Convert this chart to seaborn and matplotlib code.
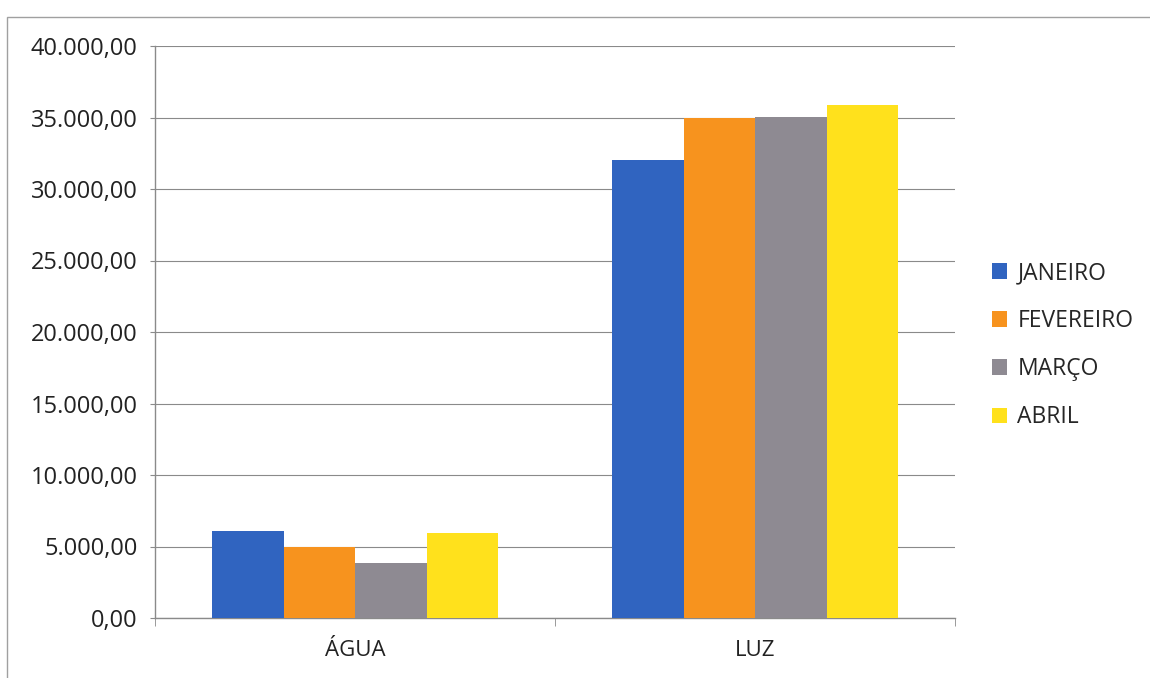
import pandas as pd
import matplotlib.pyplot as plt
import seaborn as sns
from matplotlib.ticker import FuncFormatter, FixedLocator

categorias = ["ÁGUA", "LUZ"]
meses = ["JANEIRO", "FEVEREIRO", "MARÇO", "ABRIL"]
janeiro = [6100, 32000]
fevereiro = [5000, 35000]
marco = [3850, 35050]
abril = [5950, 35900]
cores = ["#3064C0", "#F7931E", "#8E8A92", "#FFE11C"]

df = pd.DataFrame({
    "categoria": categorias * 4,
    "mes": [m for m in meses for _ in categorias],
    "valor": janeiro + fevereiro + marco + abril,
})

sns.set_style("white")
plt.rcParams["font.family"] = ["Open Sans", "DejaVu Sans"]

fig = plt.figure(figsize=(11.5, 6.78), dpi=100)
ax = fig.add_axes([155 / 1150, 1 - 618 / 678, 800 / 1150, 572 / 678])

sns.barplot(data=df, x="categoria", y="valor", hue="mes", palette=cores,
            width=0.715, gap=0, saturation=1, linewidth=0, ax=ax, zorder=3)

ax.set_ylim(0, 40000)
ax.set_xlim(-0.5, 1.5)
ax.set_yticks(range(0, 40001, 5000))
fmt = lambda v, p: f"{v:,.2f}".replace(",", "X").replace(".", ",").replace("X", ".")
ax.yaxis.set_major_formatter(FuncFormatter(fmt))
ax.grid(axis="y", color="#8a8a8a", linewidth=0.8, zorder=0)
ax.set_axisbelow(True)

for s in ["top", "right"]:
    ax.spines[s].set_visible(False)
for s in ["left", "bottom"]:
    ax.spines[s].set_color("#8a8a8a")
    ax.spines[s].set_linewidth(1)

ax.tick_params(axis="y", labelsize=17, colors="#222222", length=3.6, color="#8a8a8a", pad=9, left=True)
ax.tick_params(axis="x", which="major", labelsize=16, length=0, pad=16, labelcolor="#222222")
ax.xaxis.set_minor_locator(FixedLocator([-0.5, 0.5, 1.5]))
ax.tick_params(axis="x", which="minor", length=6, color="#8a8a8a", bottom=True)
ax.set_xlabel("")
ax.set_ylabel("")

handles, labels = ax.get_legend_handles_labels()
ax.legend(handles, labels, loc="center left", bbox_to_anchor=(1.035, 0.477), frameon=False,
          fontsize=16.5, handlelength=0.65, handleheight=0.65, handletextpad=0.45,
          labelspacing=1.05, borderaxespad=0)

fig.patches.append(plt.Rectangle((7 / 1150, -0.1), 1.2, 1.1 - 17 / 678, transform=fig.transFigure,
                                 fill=False, edgecolor="#a0a0a0", linewidth=1))

fig.savefig("out.png", dpi=100)
